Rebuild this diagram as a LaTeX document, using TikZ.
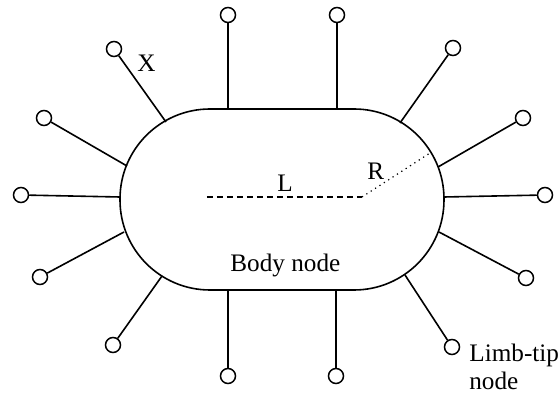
\documentclass[tikz,border=0pt]{standalone}
\usepackage{fontspec}
\setmainfont{Liberation Serif}
\begin{document}
\begin{tikzpicture}[x=0.5pt,y=-0.5pt,
  limb/.style={draw,circle,minimum size=7.5pt,inner sep=0pt,line width=0.75pt},
  conn/.style={line width=0.8pt},
  lbl/.style={inner sep=0pt,anchor=base west,font=\fontsize{12.6}{14}\selectfont}]
\fill[white] (0,0) rectangle (559,395);
\useasboundingbox (0,0) rectangle (559,395);
% body
\draw[line width=0.8pt,rounded corners=45pt] (120,109) rectangle (444,290);
% attachment points
\coordinate (a1) at (228,109);
\coordinate (a2) at (337,109);
\coordinate (a3) at (166,122);
\coordinate (a4) at (127,166);
\coordinate (a5) at (120,197);
\coordinate (a6) at (124,232);
\coordinate (a7) at (162,276);
\coordinate (a8) at (228,290);
\coordinate (a9) at (336,290);
\coordinate (a10) at (405,275);
\coordinate (a11) at (439,232);
\coordinate (a12) at (444,197);
\coordinate (a13) at (438,167);
\coordinate (a14) at (400,123);
% limb tips
\node[limb] (t1) at (228,15) {};
\node[limb] (t2) at (337,15) {};
\node[limb] (t3) at (114,49) {};
\node[limb] (t4) at (44,118) {};
\node[limb] (t5) at (21,195) {};
\node[limb] (t6) at (40,277) {};
\node[limb] (t7) at (113,345) {};
\node[limb] (t8) at (228,376) {};
\node[limb] (t9) at (336,376) {};
\node[limb] (t10) at (452,347) {};
\node[limb] (t11) at (526,278) {};
\node[limb] (t12) at (545,195) {};
\node[limb] (t13) at (523,118) {};
\node[limb] (t14) at (453,48) {};
\foreach \i in {1,...,14} {\draw[conn] (t\i) -- (a\i);}
% L and R
\coordinate (lstart) at (207,197);
\coordinate (lend) at (362,197);
\coordinate (rend) at (430,153);
\draw[line width=0.75pt,dash pattern=on 3pt off 2pt] (lstart) -- (lend);
\draw[line width=0.6pt,dotted] (lend) -- (rend);
\node[lbl] (L) at (277,192) {L};
\node[lbl] (R) at (367,180) {R};
\node[lbl] (X) at (137,72) {X};
\node[lbl] (body) at (230,272) {Body node};
\node[lbl] (tip) at (469,362) {Limb-tip};
\node[lbl] (tip2) at (469,390) {node};
\end{tikzpicture}
\end{document}
